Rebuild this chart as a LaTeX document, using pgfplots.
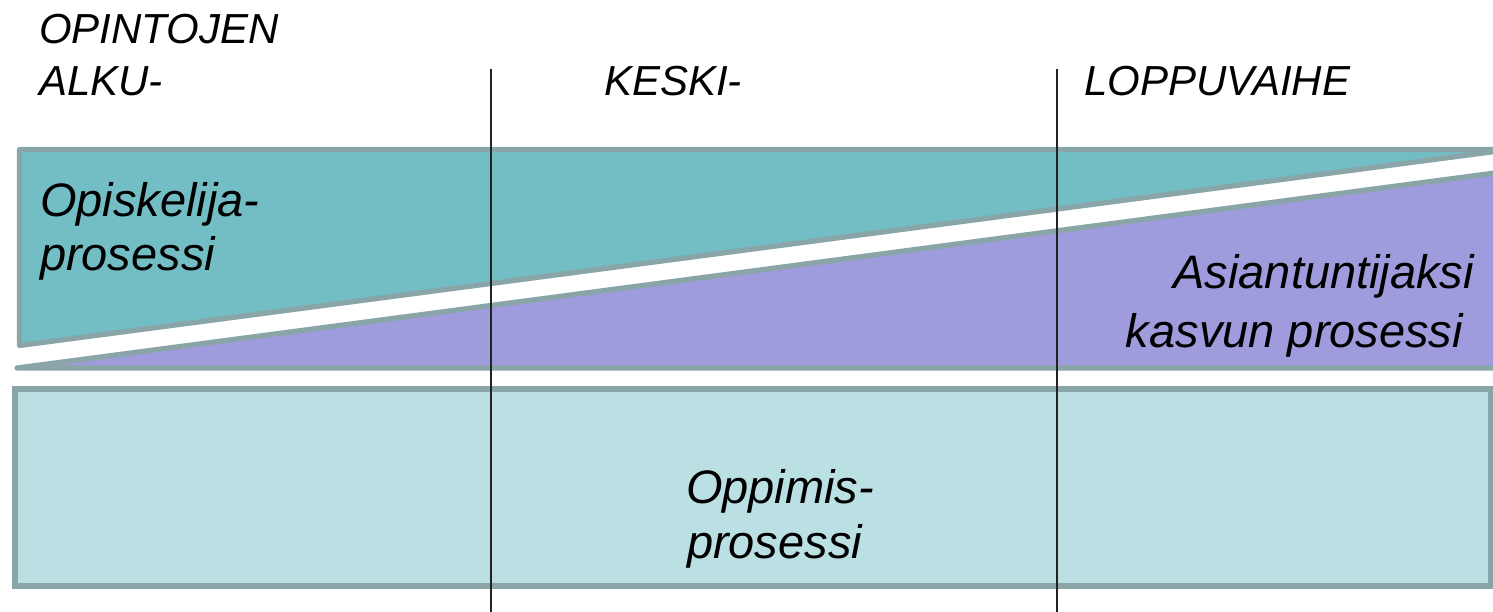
\documentclass[border=0pt]{standalone}
\usepackage{pgfplots}
\pgfplotsset{compat=1.18}
\usepackage{fontspec}
\setmainfont{Liberation Sans}
\definecolor{tealfill}{HTML}{72BEC4}
\definecolor{edge}{HTML}{89A5A7}
\definecolor{lilac}{HTML}{9E9CDC}
\definecolor{paleblue}{HTML}{BBE0E3}
\definecolor{divider}{HTML}{222222}
\begin{document}
\begin{tikzpicture}
\begin{axis}[
  width=746.5pt, height=305.5pt, scale only axis,
  xmin=0, xmax=1493, ymin=0, ymax=611, y dir=reverse,
  hide axis, clip=true,
  every node/.style={inner sep=0pt, font=\itshape},
]
% phases: student process (teal), expert growth (lilac), learning (pale)
\addplot[fill=tealfill, draw=edge, line width=2.6pt, line join=round]
  coordinates {(19.5,149.5) (1510,149.5) (19.5,345.5)} -- cycle;
\addplot[fill=lilac, draw=edge, line width=2.6pt, line join=round]
  coordinates {(17,368) (1510,171) (1510,368)} -- cycle;
\addplot[fill=paleblue, draw=edge, line width=2.6pt]
  coordinates {(15,389) (1490.5,389) (1490.5,586) (15,586)} -- cycle;
% phase dividers
\addplot[divider, line width=1pt] coordinates {(491,69) (491,620)};
\addplot[divider, line width=1pt] coordinates {(1057,69) (1057,620)};

\node[anchor=base west, font=\itshape\fontsize{21}{25}\selectfont] at (axis cs:32,43) {OPINTOJEN};
\node[anchor=base west, font=\itshape\fontsize{21}{25}\selectfont] at (axis cs:32,95) {ALKU-};
\node[anchor=base west, font=\itshape\fontsize{21}{25}\selectfont] at (axis cs:597,95) {KESKI-};
\node[anchor=base west, font=\itshape\fontsize{21}{25}\selectfont] at (axis cs:1077,95) {LOPPUVAIHE};

\node[anchor=base west, font=\itshape\fontsize{23.5}{28}\selectfont] at (axis cs:33,216) {Opiskelija-};
\node[anchor=base west, font=\itshape\fontsize{23.5}{28}\selectfont] at (axis cs:33,270) {prosessi};

\node[anchor=base east, font=\itshape\fontsize{23.5}{28}\selectfont] at (axis cs:1481,288) {Asiantuntijaksi};
\node[anchor=base east, font=\itshape\fontsize{23.5}{28}\selectfont] at (axis cs:1470,347) {kasvun prosessi};

\node[anchor=base west, font=\itshape\fontsize{23.5}{28}\selectfont] at (axis cs:679,503) {Oppimis-};
\node[anchor=base west, font=\itshape\fontsize{23.5}{28}\selectfont] at (axis cs:680,558) {prosessi};
\end{axis}
\pgfresetboundingbox
\path (current axis.south west) rectangle (current axis.north east);
\end{tikzpicture}
\end{document}
